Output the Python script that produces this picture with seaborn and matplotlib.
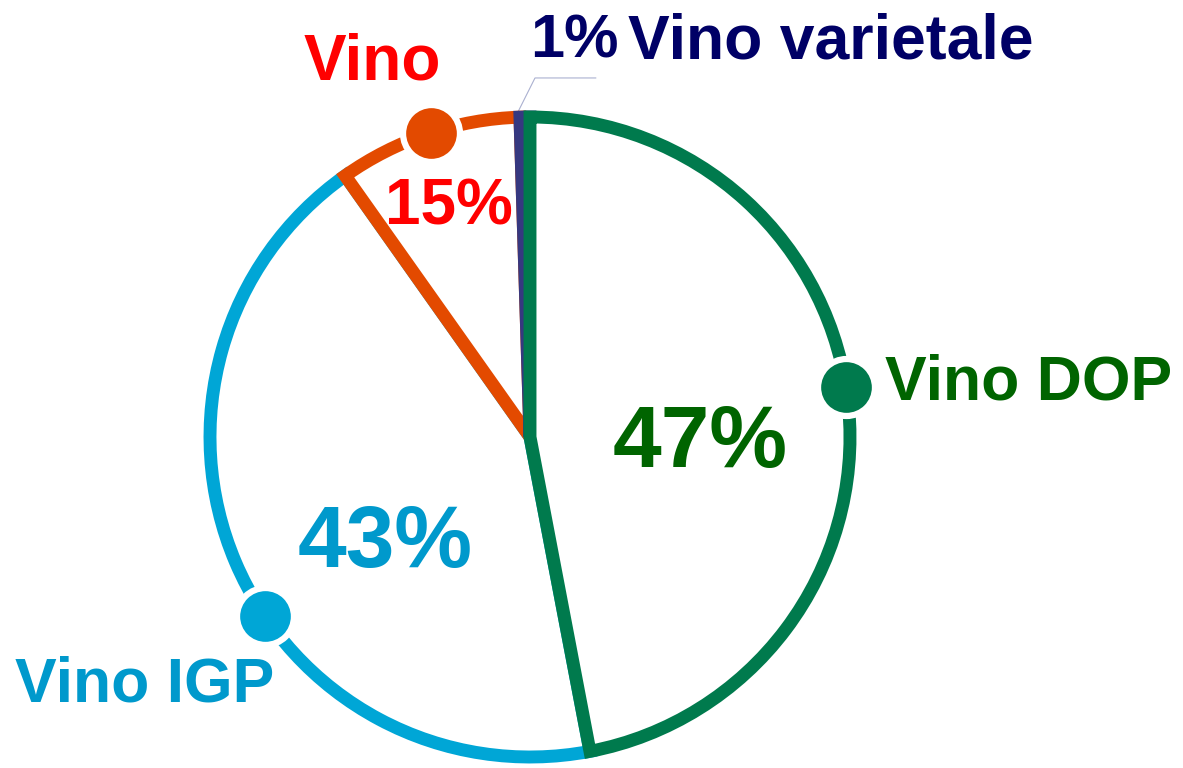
import numpy as np
import matplotlib
matplotlib.use('Agg')
import matplotlib.pyplot as plt
import seaborn as sns

# Wine production shares (slice sizes, labels as printed)
categories = ['Vino DOP', 'Vino IGP', 'Vino', 'Vino varietale']
shares = [47, 43.2, 9.3, 0.5]
pct_labels = ['47%', '43%', '15%', '1%']

edge_colors = ['#007a4d', '#00a6d6', '#e34a00', '#363880']
text_colors = ['#006400', '#0099cc', '#ff0000', '#000066']

sns.set_theme(style='white')
plt.rcParams['font.family'] = ['Liberation Sans', 'DejaVu Sans']

fig = plt.figure(figsize=(11.83, 7.68), dpi=100)
ax = fig.add_axes([0, 0, 1, 1])

wedges, _ = ax.pie(shares, startangle=90, counterclock=False, radius=1,
                   colors=['white'] * 4,
                   wedgeprops=dict(linewidth=9.3, joinstyle='miter'))
for w, c, z in zip(wedges, edge_colors, [5, 2, 3, 4]):
    w.set_edgecolor(c)
    w.set_zorder(z)

# dots on the rim
dot_angles = [9, 214, 108]
for ang, c in zip(dot_angles, edge_colors[:3]):
    a = np.deg2rad(ang)
    ax.plot(np.cos(a), np.sin(a), 'o', ms=41, color=c, mec='white', mew=4.5, zorder=10)

tk = dict(fontweight='bold', va='center', zorder=20)
ax.text(1.109, 0.169, categories[0], color=text_colors[0], fontsize=45, ha='left', **tk)
ax.text(0.531, -0.025, pct_labels[0], color=text_colors[0], fontsize=63, ha='center', **tk)
ax.text(-0.453, -0.3375, pct_labels[1], color=text_colors[1], fontsize=63, ha='center', **tk)
ax.text(-1.203, -0.775, categories[1], color=text_colors[1], fontsize=45, ha='center', **tk)
ax.text(-0.253, 0.716, pct_labels[2], color=text_colors[2], fontsize=46, ha='center', **tk)
ax.text(-0.494, 1.169, categories[2], color=text_colors[2], fontsize=46, ha='center', **tk)
ax.text(0.0, 1.234, pct_labels[3], color=text_colors[3], fontsize=44, ha='left', **tk)
ax.text(0.306, 1.234, categories[3], color=text_colors[3], fontsize=45, ha='left', **tk)

# leader line for the small slice
ax.plot([-0.0375, 0.0156, 0.206], [1.016, 1.122, 1.122], color='#aab0d0', lw=0.8, zorder=1)

ax.set_xlim(-530 / 320, (1183 - 530) / 320)
ax.set_ylim(-(768 - 437) / 320, 437 / 320)
ax.set_aspect('equal')
ax.axis('off')

fig.savefig('out.png', dpi=100)
